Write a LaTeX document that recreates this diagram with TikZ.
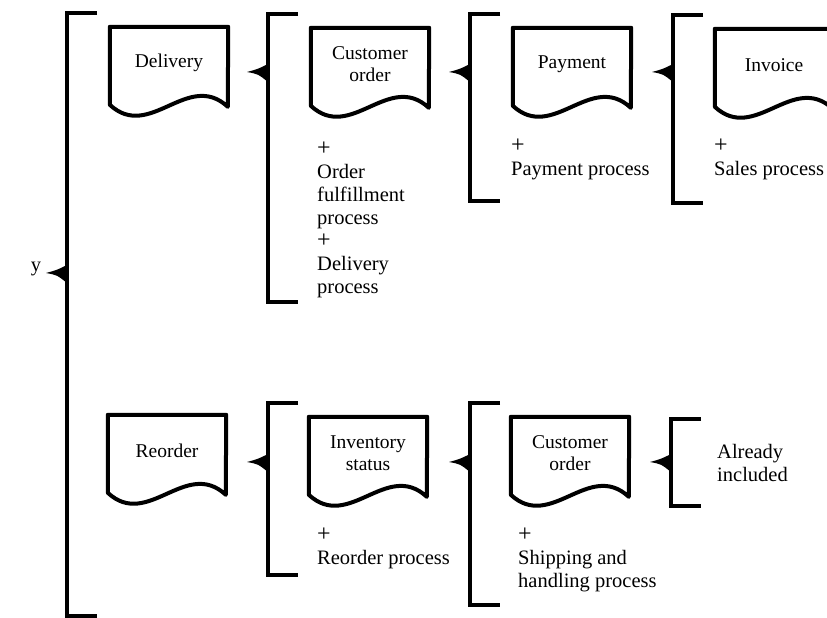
\documentclass[tikz,border=0pt]{standalone}
\usepackage{fontspec}
\setmainfont{Liberation Serif}
\usetikzlibrary{calc}
\newcommand{\plusmark}{{\fontsize{24}{23}\selectfont+}}

\begin{document}
\begin{tikzpicture}[x=1pt,y=-1pt]

        \useasboundingbox (0,0) rectangle (827,618);
        \clip (0,0) rectangle (827,618);

        \begin{scope}[every node/.style={minimum width=118pt,minimum height=72pt,inner sep=0pt,align=center,font=\fontsize{19.5}{22.5}\selectfont}]
          \node (delivery)  at (169,63)  {Delivery};
          \node (order)     at (370,64)  {Customer\\order};
          \node (payment)   at (572,64)  {Payment};
          \node (invoice)   at (774,65)  {Invoice};
          \node (reorder)   at (167,451) {Reorder};
          \node (inventory) at (368,453) {Inventory\\status};
          \node (order2)    at (570,453) {Customer\\order};
        \end{scope}

        \begin{scope}[line width=4pt,line join=round]
          \foreach \n in {delivery,order,payment,invoice,reorder,inventory,order2}
            \draw (\n.north west) -- (\n.north east) -- ($(\n.north west)+(118,80)$)
              .. controls ($(\n.north west)+(78,43)$) and ($(\n.north west)+(40,115)$) .. ($(\n.north west)+(0,78)$) -- cycle;
        \end{scope}

        \begin{scope}[line width=3.5pt]
          \foreach \x/\t/\b/\w [count=\i] in {67/13/616/273, 268/14/302/72, 470/14/201/72, 673/15/203/72, 268/403/575/462, 470/403/605/462, 671/419/506/462}
          {
            \coordinate (brace\i) at (\x,\w);
            \draw (\x+30,\t) -- (\x,\t) -- (\x,\b) -- (\x+30,\b);
            \fill (\x,\w-8) .. controls (\x-10,\w-3) .. (\x-21,\w) .. controls (\x-10,\w+2) .. (\x,\w+10) -- cycle;
          }
        \end{scope}

        \begin{scope}[every node/.style={anchor=north west,align=left,inner sep=0pt,font=\fontsize{20.5}{23}\selectfont}]
          \node (ordertext)     at (317,139.5) {\strut\plusmark\\Order\\fulfillment\\process\\\plusmark\\Delivery\\process};
          \node (paymenttext)   at (511,136.5) {\strut\plusmark\\Payment process};
          \node (invoicetext)   at (714,136.5) {\strut\plusmark\\Sales process};
          \node (inventorytext) at (317,525.5) {\strut\plusmark\\Reorder process};
          \node (order2text)    at (518,525.5) {\strut\plusmark\\Shipping and\\handling process};
          \node[anchor=west] (included) at (717,463) {Already\\included};
          \node[anchor=base] (y) at (36,271) {y};
        \end{scope}

      \end{tikzpicture}
\end{document}
